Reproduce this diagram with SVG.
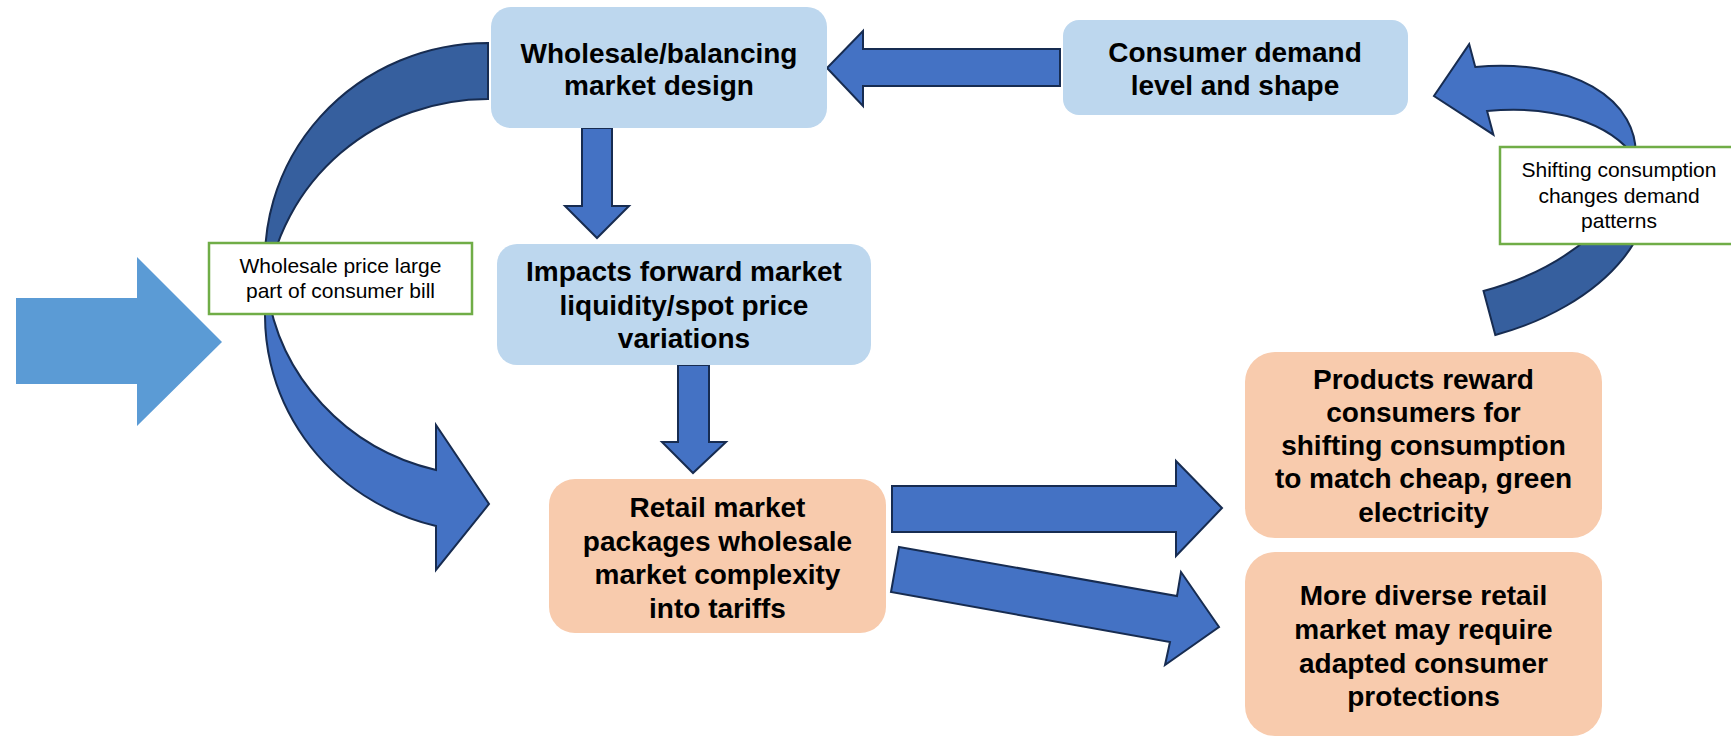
<svg xmlns="http://www.w3.org/2000/svg" width="1731" height="738" viewBox="0 0 1731 738">
  <style>
    .blue { fill: #BDD7EE; }
    .peach { fill: #F8CBAD; }
    .title { font-family: "Liberation Sans", Arial, sans-serif; font-size: 28px; font-weight: bold; fill: #000; text-anchor: middle; }
    .note { font-family: "Liberation Sans", Arial, sans-serif; font-size: 21px; fill: #000; text-anchor: middle; }
    .note-box { fill: #FFFFFF; stroke: #70AD47; stroke-width: 2.5; }
    .arrow { fill: #4472C4; stroke: #172C51; stroke-width: 2; stroke-linejoin: miter; }
    .arrow-back { fill: #365F9E; stroke: #172C51; stroke-width: 2; }
    .input-arrow { fill: #5B9BD5; }
  </style>

  <!-- connectors -->
  <g id="connectors">
    <!-- external input arrow on the left -->
    <polygon class="input-arrow" points="16,298 137,298 137,257 222,342 137,426 137,384 16,384"/>

    <!-- curved arrow: wholesale design back round to retail market -->
    <g id="loop-left">
      <path class="arrow-back" d="M 488,43 A 223 216.5 0 0 0 266.9,287.5 A 223 216.5 0 0 1 488,99 Z"/>
      <path class="arrow" d="M 266.9,287.5 A 223 216.5 0 0 0 436,526 L 436,570 L 489,504 L 436,425 L 436,470 A 223 216.5 0 0 1 266.9,287.5 Z"/>
    </g>

    <!-- curved arrow: retail products back up to consumer demand -->
    <g id="loop-right" transform="rotate(-15 1560 190)">
      <path class="arrow-back" d="M 1460,313.3 A 185 111.3 0 0 0 1641.1,179.2 A 185 111.3 0 0 1 1460,267.7 Z"/>
      <path class="arrow" d="M 1641.1,179.2 A 185 111.3 0 0 0 1510,49.2 L 1510,25.7 L 1462.6,66.6 L 1510,119.3 L 1510,94.8 A 185 111.3 0 0 1 1641.1,179.2 Z"/>
    </g>

    <!-- consumer demand -> wholesale design -->
    <polygon class="arrow" points="1060,49 863,49 863,31 827,68 863,106 863,86 1060,86"/>

    <!-- wholesale design -> forward market impacts -->
    <polygon class="arrow" points="582,128 612,128 612,206 629,206 597,238 565,206 582,206"/>

    <!-- forward market impacts -> retail market -->
    <polygon class="arrow" points="678,365 709,365 709,442 726,442 693,473 662,442 678,442"/>

    <!-- retail market -> products -->
    <polygon class="arrow" points="892,486 1176,486 1176,461 1222,508 1176,556 1176,532 892,532"/>

    <!-- retail market -> consumer protections -->
    <polygon class="arrow" points="899,547 1177,596 1181,572 1219,627 1165,665 1170,642 891,592"/>
  </g>

  <!-- nodes -->
  <g id="node-wholesale">
    <rect class="blue" x="491" y="7" width="336" height="121" rx="20" ry="20"/>
    <text class="title" x="659" y="63">Wholesale/balancing</text>
    <text class="title" x="659" y="95">market design</text>
  </g>

  <g id="node-demand">
    <rect class="blue" x="1063" y="20" width="345" height="95" rx="16" ry="16"/>
    <text class="title" x="1235" y="62">Consumer demand</text>
    <text class="title" x="1235" y="95">level and shape</text>
  </g>

  <g id="node-forward">
    <rect class="blue" x="497" y="244" width="374" height="121" rx="20" ry="20"/>
    <text class="title" x="684" y="281">Impacts forward market</text>
    <text class="title" x="684" y="315">liquidity/spot price</text>
    <text class="title" x="684" y="348">variations</text>
  </g>

  <g id="node-retail">
    <rect class="peach" x="549" y="479" width="337" height="154" rx="26" ry="26"/>
    <text class="title" x="717.5" y="517">Retail market</text>
    <text class="title" x="717.5" y="550.5">packages wholesale</text>
    <text class="title" x="717.5" y="584">market complexity</text>
    <text class="title" x="717.5" y="617.5">into tariffs</text>
  </g>

  <g id="node-products">
    <rect class="peach" x="1245" y="352" width="357" height="186" rx="30" ry="30"/>
    <text class="title" x="1423.5" y="389">Products reward</text>
    <text class="title" x="1423.5" y="422">consumers for</text>
    <text class="title" x="1423.5" y="455">shifting consumption</text>
    <text class="title" x="1423.5" y="488">to match cheap, green</text>
    <text class="title" x="1423.5" y="522">electricity</text>
  </g>

  <g id="node-protections">
    <rect class="peach" x="1245" y="552" width="357" height="184" rx="30" ry="30"/>
    <text class="title" x="1423.5" y="605">More diverse retail</text>
    <text class="title" x="1423.5" y="639">market may require</text>
    <text class="title" x="1423.5" y="673">adapted consumer</text>
    <text class="title" x="1423.5" y="706">protections</text>
  </g>

  <!-- annotations -->
  <g id="note-wholesale-price">
    <rect class="note-box" x="209" y="243" width="263" height="71"/>
    <text class="note" x="340.5" y="273">Wholesale price large</text>
    <text class="note" x="340.5" y="298">part of consumer bill</text>
  </g>

  <g id="note-shifting">
    <rect class="note-box" x="1500" y="147" width="245" height="97"/>
    <text class="note" x="1619" y="177">Shifting consumption</text>
    <text class="note" x="1619" y="203">changes demand</text>
    <text class="note" x="1619" y="228">patterns</text>
  </g>
</svg>
